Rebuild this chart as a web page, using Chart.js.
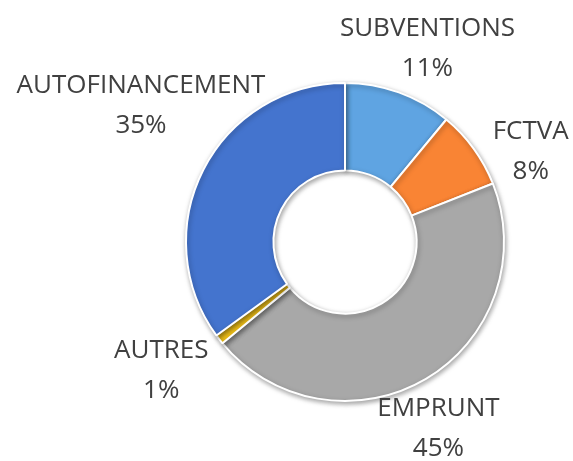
<!DOCTYPE html>
<html>
<head>
<meta charset="utf-8">
<script src="https://cdn.jsdelivr.net/npm/chart.js@4"></script>
<style>
  html, body { margin:0; padding:0; background:#ffffff; }
  #wrap { width:573px; height:461px; }
</style>
</head>
<body>
<div id="wrap"><canvas id="financeChart" width="573" height="461"></canvas></div>
<script>
// DATA
const categories = ['SUBVENTIONS', 'FCTVA', 'EMPRUNT', 'AUTRES', 'AUTOFINANCEMENT'];
const shares = [11, 8, 45, 1, 35];

const sliceColors = ['#5fa4e2', '#f98434', '#a8a8a8', '#f2c21a', '#4474ce'];

// label nudges (px) from the default spot outside each slice
const labelNudge = [
  [11, 5],
  [15, 34],
  [-14, 5],
  [-17, -1],
  [-16, -41]
];

// ======================================
// SOFT SHADOW UNDER THE RING
// ======================================
const ringShadow = {
  id:'ringShadow',
  beforeDatasetsDraw(chart){
    const c = chart.ctx;
    c.save();
    c.shadowColor = 'rgba(0,0,0,0.35)';
    c.shadowBlur = 5;
    c.shadowOffsetX = 1;
    c.shadowOffsetY = 2;
  },
  afterDatasetsDraw(chart){
    chart.ctx.restore();
  }
};

// ======================================
// OUTSIDE LABELS
// ======================================
const outsideLabels = {
  id:'outsideLabels',
  afterDraw(chart){
    const c = chart.ctx;
    const meta = chart.getDatasetMeta(0);
    const total = shares.reduce((a, b) => a + b, 0);

    c.save();
    c.fillStyle = '#404040';
    c.font = '26px "Open Sans", sans-serif';
    c.textAlign = 'center';
    c.textBaseline = 'middle';

    meta.data.forEach((arc, i) => {
      const p = arc.getProps(['x', 'y', 'startAngle', 'endAngle', 'outerRadius'], true);
      const mid = (p.startAngle + p.endAngle) / 2;
      const r = p.outerRadius + 52;
      const x = p.x + Math.cos(mid) * r + labelNudge[i][0];
      const y = p.y + Math.sin(mid) * r + labelNudge[i][1];
      const pct = Math.round(shares[i] / total * 100) + '%';

      c.fillText(categories[i], x, y - 20);
      c.fillText(pct, x, y + 20);
    });

    c.restore();
  }
};

// ======================================
// CHART
// ======================================
const ctx = document.getElementById('financeChart');

new Chart(ctx, {

  type:'doughnut',

  data:{
    labels:categories,
    datasets:[
      {
        data:shares,
        backgroundColor:sliceColors,
        borderColor:'#ffffff',
        borderWidth:2,
        hoverOffset:0
      }
    ]
  },

  options:{
    responsive:false,
    maintainAspectRatio:false,
    animation:false,
    cutout:'45%',
    layout:{
      padding:{ top:82, bottom:59, left:185, right:68 }
    },
    plugins:{
      legend:{ display:false },
      tooltip:{ enabled:false }
    }
  },

  plugins:[ringShadow, outsideLabels]
});
</script>
</body>
</html>
